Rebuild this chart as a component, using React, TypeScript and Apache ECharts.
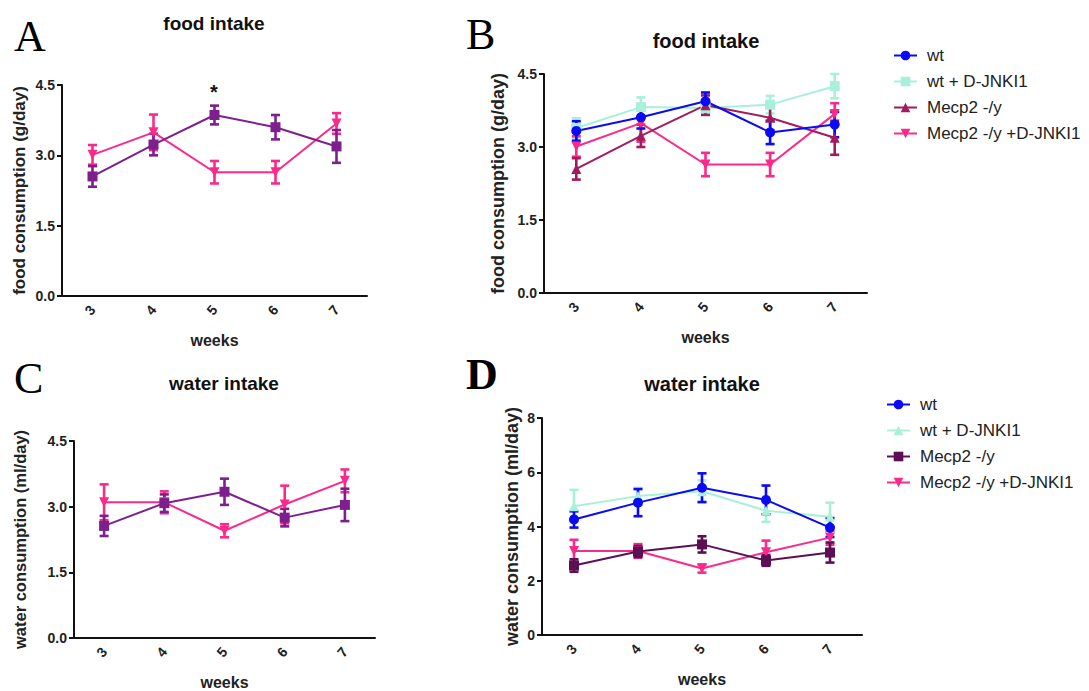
import React, { useEffect, useRef } from "react";
import * as echarts from "echarts";

// ---- data ----
const weeks = ["3", "4", "5", "6", "7"];

// food intake (g/day)
const wtFood = [3.33, 3.61, 3.94, 3.3, 3.46];
const wtFoodErr = [0.2, 0.23, 0.18, 0.24, 0.26];
const wtJnkFood = [3.39, 3.82, 3.8, 3.87, 4.25];
const wtJnkFoodErr = [0.2, 0.2, 0.14, 0.18, 0.25];
const mecpFood = [2.55, 3.23, 3.86, 3.6, 3.19];
const mecpFoodErr = [0.22, 0.23, 0.2, 0.26, 0.35];
const mecpJnkFood = [3.01, 3.49, 2.64, 2.64, 3.68];
const mecpJnkFoodErr = [0.21, 0.38, 0.24, 0.24, 0.22];

// water intake (ml/day)
const wtWater = [4.26, 4.88, 5.43, 4.98, 3.96];
const wtWaterErr = [0.3, 0.5, 0.53, 0.53, 0.35];
const wtJnkWater = [4.75, 5.12, 5.3, 4.58, 4.36];
const wtJnkWaterErr = [0.6, 0.3, 0.4, 0.41, 0.52];
const mecpWater = [2.56, 3.08, 3.34, 2.75, 3.04];
const mecpWaterErr = [0.23, 0.2, 0.3, 0.2, 0.37];
const mecpJnkWater = [3.1, 3.1, 2.45, 3.05, 3.59];
const mecpJnkWaterErr = [0.41, 0.25, 0.15, 0.43, 0.26];

const foodTicks = { min: 0, max: 4.5, interval: 1.5 };
const waterTicksD = { min: 0, max: 8, interval: 2 };

// ---- styles ----
const SANS = "'Liberation Sans', Arial, sans-serif";
const SERIF = "'Liberation Serif', 'Times New Roman', serif";
const C_BLUE = "#0a0af5";
const C_MINT = "#a8f0d8";
const C_PURPLE = "#7e1f8e";
const C_PINK = "#fb2a8a";
const C_MAROON = "#a31a5e";
const C_DARK = "#5c0f55";
const AXIS = "#111";

function App() {
  const ref = useRef<HTMLDivElement>(null);

  useEffect(() => {
    if (!ref.current) return;
    const chart = echarts.init(ref.current, null, { renderer: "svg" });

    const grids = [
      { left: 62, top: 85, width: 305, height: 211 },
      { left: 544, top: 74, width: 323, height: 219 },
      { left: 74, top: 441, width: 301, height: 201 },
      { left: 542, top: 418, width: 320, height: 217 },
    ];

    const xAxis = [36, 36, 36, 36].map((gap, i) => ({
      type: "category",
      gridIndex: i,
      data: weeks,
      boundaryGap: true,
      axisLine: { lineStyle: { color: AXIS, width: 2 } },
      axisTick: { alignWithLabel: true, length: 5, lineStyle: { color: AXIS, width: 2 } },
      axisLabel: { rotate: 50, fontSize: 14, fontWeight: "bold", color: "#222", fontFamily: SANS, margin: 11 },
      name: "weeks",
      nameLocation: "middle",
      nameGap: gap,
      nameTextStyle: { fontSize: 16, fontWeight: "bold", color: "#222", fontFamily: SANS },
    }));

    const yNames = [
      { name: "food consumption (g/day)", gap: 34, size: 17, ticks: foodTicks, dec: 1 },
      { name: "food consumption (g/day)", gap: 37, size: 18, ticks: foodTicks, dec: 1 },
      { name: "water consumption (ml/day)", gap: 46, size: 16.5, ticks: foodTicks, dec: 1 },
      { name: "water consumption (ml/day)", gap: 21, size: 18, ticks: waterTicksD, dec: 0 },
    ];
    const yAxis = yNames.map((y, i) => ({
      type: "value",
      gridIndex: i,
      min: y.ticks.min,
      max: y.ticks.max,
      interval: y.ticks.interval,
      splitLine: { show: false },
      axisLine: { show: true, lineStyle: { color: AXIS, width: 2 } },
      axisTick: { show: true, length: 5, lineStyle: { color: AXIS, width: 2 } },
      axisLabel: {
        fontSize: 14,
        fontWeight: "bold",
        color: "#222",
        fontFamily: SANS,
        margin: 7,
        formatter: (v: number) => v.toFixed(y.dec),
      },
      name: y.name,
      nameLocation: "middle",
      nameGap: y.gap,
      nameTextStyle: { fontSize: y.size, fontWeight: "bold", color: "#222", fontFamily: SANS },
    }));

    const series: any[] = [];
    const addGroup = (
      grid: number,
      name: string,
      vals: number[],
      errs: number[],
      color: string,
      symbol: string,
      rotate = 0
    ) => {
      series.push({
        type: "custom",
        name: "err-" + name,
        xAxisIndex: grid,
        yAxisIndex: grid,
        z: 2,
        encode: { x: 0, y: [1, 2] },
        data: vals.map((v, i) => [i, v - errs[i], v + errs[i]]),
        renderItem: (params: any, api: any) => {
          const x = api.value(0);
          const lo = api.coord([x, api.value(1)]);
          const hi = api.coord([x, api.value(2)]);
          const w = 4.5;
          const st = { stroke: color, lineWidth: 2.6 };
          return {
            type: "group",
            children: [
              { type: "line", shape: { x1: lo[0], y1: lo[1], x2: hi[0], y2: hi[1] }, style: st },
              { type: "line", shape: { x1: lo[0] - w, y1: lo[1], x2: lo[0] + w, y2: lo[1] }, style: st },
              { type: "line", shape: { x1: hi[0] - w, y1: hi[1], x2: hi[0] + w, y2: hi[1] }, style: st },
            ],
          };
        },
      });
      series.push({
        type: "line",
        name,
        xAxisIndex: grid,
        yAxisIndex: grid,
        z: 3,
        data: vals,
        symbol,
        symbolRotate: rotate,
        symbolSize: 10,
        showAllSymbol: true,
        lineStyle: { color, width: 2 },
        itemStyle: { color },
      });
    };

    // A
    addGroup(0, "A|Mecp2 -/y +D-JNKI1", mecpJnkFood, mecpJnkFoodErr, C_PINK, "triangle", 180);
    addGroup(0, "A|Mecp2 -/y", mecpFood, mecpFoodErr, C_PURPLE, "rect");
    // B
    addGroup(1, "B|wt + D-JNKI1", wtJnkFood, wtJnkFoodErr, C_MINT, "rect");
    addGroup(1, "B|Mecp2 -/y +D-JNKI1", mecpJnkFood, mecpJnkFoodErr, C_PINK, "triangle", 180);
    addGroup(1, "B|Mecp2 -/y", mecpFood, mecpFoodErr, C_MAROON, "triangle");
    addGroup(1, "B|wt", wtFood, wtFoodErr, C_BLUE, "circle");
    // C
    addGroup(2, "C|Mecp2 -/y +D-JNKI1", mecpJnkWater, mecpJnkWaterErr, C_PINK, "triangle", 180);
    addGroup(2, "C|Mecp2 -/y", mecpWater, mecpWaterErr, C_PURPLE, "rect");
    // D
    addGroup(3, "D|wt + D-JNKI1", wtJnkWater, wtJnkWaterErr, C_MINT, "triangle");
    addGroup(3, "D|Mecp2 -/y +D-JNKI1", mecpJnkWater, mecpJnkWaterErr, C_PINK, "triangle", 180);
    addGroup(3, "D|Mecp2 -/y", mecpWater, mecpWaterErr, C_DARK, "rect");
    addGroup(3, "D|wt", wtWater, wtWaterErr, C_BLUE, "circle");

    const legendBase = {
      orient: "vertical",
      itemWidth: 23,
      itemHeight: 12,
      itemGap: 9,
      formatter: (n: string) => n.split("|")[1],
      textStyle: { fontSize: 17, color: "#222", fontFamily: SANS, padding: [0, 0, 0, 5] },
    };

    const titleStyle = { fontWeight: "bold", fill: "#111", fontFamily: SANS };
    const letter = (t: string, x: number, y: number, bold = false) => ({
      type: "text",
      left: x,
      top: y,
      style: { text: t, fontSize: 44, fontFamily: SERIF, fontWeight: bold ? "bold" : "normal", fill: "#000" },
    });
    const title = (t: string, cx: number, cy: number, size: number) => ({
      type: "text",
      x: cx,
      y: cy,
      style: { ...titleStyle, text: t, fontSize: size, textAlign: "center", textVerticalAlign: "middle" },
    });

    chart.setOption({
      animation: false,
      backgroundColor: "#fff",
      grid: grids,
      xAxis,
      yAxis,
      series,
      legend: [
        {
          ...legendBase,
          left: 888,
          top: 42,
          data: ["B|wt", "B|wt + D-JNKI1", "B|Mecp2 -/y", "B|Mecp2 -/y +D-JNKI1"],
        },
        {
          ...legendBase,
          left: 881,
          top: 391,
          data: ["D|wt", "D|wt + D-JNKI1", "D|Mecp2 -/y", "D|Mecp2 -/y +D-JNKI1"],
        },
      ],
      graphic: [
        letter("A", 14, 14),
        letter("B", 466, 12),
        letter("C", 14, 356),
        letter("D", 466, 352, true),
        title("food intake", 214, 23, 19),
        title("food intake", 706, 41, 20),
        title("water intake", 224, 383, 19),
        title("water intake", 702, 384, 20),
        {
          type: "text",
          x: 214,
          y: 92,
          style: { text: "*", fontSize: 20, fontWeight: "bold", fill: "#111", fontFamily: SANS, textAlign: "center", textVerticalAlign: "middle" },
        },
      ],
    });

    return () => chart.dispose();
  }, []);

  return <div ref={ref} style={{ position: "fixed", left: 0, top: 0, width: 1089, height: 691 }} />;
}

export default App;
